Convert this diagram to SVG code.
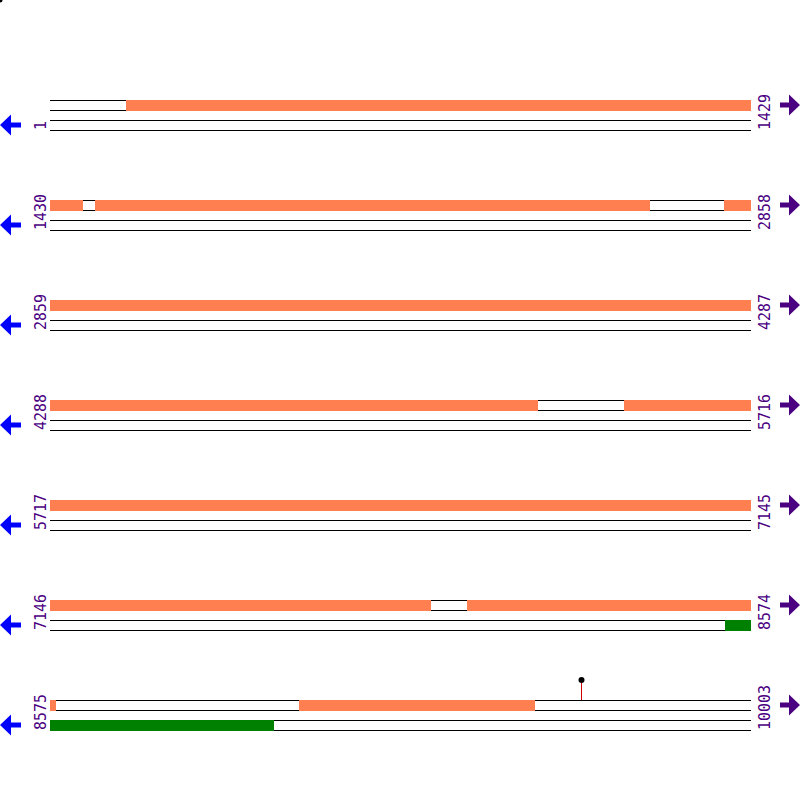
<svg xmlns="http://www.w3.org/2000/svg" width="800" height="800" viewBox="0 0 800 800">
<style>
.bg{fill:#fff}
.ln{stroke:#000;stroke-width:1}
.or{fill:#FF7F50}
.gr{fill:#008000}
.lbl{font-family:"DejaVu Sans Mono",monospace;font-size:15px;fill:#4B0082}
.la{fill:#0000FF}
.ra{fill:#4B0082}
</style>
<defs>
<g id="lanes">
<line class="ln" x1="50" y1="100.5" x2="751" y2="100.5"/>
<line class="ln" x1="50" y1="110.5" x2="751" y2="110.5"/>
<line class="ln" x1="50" y1="120.5" x2="751" y2="120.5"/>
<line class="ln" x1="50" y1="130.5" x2="751" y2="130.5"/>
<polygon class="la" points="0,125 11,114.5 11,122.5 21,122.5 21,127.5 11,127.5 11,135.5"/>
<polygon class="ra" points="780,102.5 789,102.5 789,94.5 800,105 789,115.5 789,107.5 780,107.5"/>
</g>
</defs>
<rect class="bg" x="0" y="0" width="800" height="800"/>
<circle cx="0" cy="0" r="2.5" fill="#000"/>
<g id="connectors">
<line x1="581.5" y1="680" x2="581.5" y2="700" stroke="#d00000" stroke-width="1"/>
</g>
<g id="row1">
<use href="#lanes"/>
<rect class="or" x="126" y="100" width="625" height="11"/>
<text class="lbl" transform="translate(46,130) rotate(-90)">1</text>
<text class="lbl" transform="translate(770,130) rotate(-90)">1429</text>
</g>
<g id="row2">
<use href="#lanes" y="100"/>
<rect class="or" x="50" y="200" width="33" height="11"/>
<rect class="or" x="95" y="200" width="555" height="11"/>
<rect class="or" x="724" y="200" width="27" height="11"/>
<text class="lbl" transform="translate(46,230) rotate(-90)">1430</text>
<text class="lbl" transform="translate(770,230) rotate(-90)">2858</text>
</g>
<g id="row3">
<use href="#lanes" y="200"/>
<rect class="or" x="50" y="300" width="701" height="11"/>
<text class="lbl" transform="translate(46,330) rotate(-90)">2859</text>
<text class="lbl" transform="translate(770,330) rotate(-90)">4287</text>
</g>
<g id="row4">
<use href="#lanes" y="300"/>
<rect class="or" x="50" y="400" width="488" height="11"/>
<rect class="or" x="624" y="400" width="127" height="11"/>
<text class="lbl" transform="translate(46,430) rotate(-90)">4288</text>
<text class="lbl" transform="translate(770,430) rotate(-90)">5716</text>
</g>
<g id="row5">
<use href="#lanes" y="400"/>
<rect class="or" x="50" y="500" width="701" height="11"/>
<text class="lbl" transform="translate(46,530) rotate(-90)">5717</text>
<text class="lbl" transform="translate(770,530) rotate(-90)">7145</text>
</g>
<g id="row6">
<use href="#lanes" y="500"/>
<rect class="or" x="50" y="600" width="381" height="11"/>
<rect class="or" x="467" y="600" width="284" height="11"/>
<rect class="gr" x="725" y="620" width="26" height="11"/>
<text class="lbl" transform="translate(46,630) rotate(-90)">7146</text>
<text class="lbl" transform="translate(770,630) rotate(-90)">8574</text>
</g>
<g id="row7">
<use href="#lanes" y="600"/>
<rect class="or" x="50" y="700" width="6" height="11"/>
<rect class="or" x="299" y="700" width="236" height="11"/>
<rect class="gr" x="50" y="720" width="224" height="11"/>
<circle cx="581.5" cy="680" r="3" fill="#000"/>
<text class="lbl" transform="translate(46,730) rotate(-90)">8575</text>
<text class="lbl" transform="translate(770,730) rotate(-90)">10003</text>
</g>
</svg>
